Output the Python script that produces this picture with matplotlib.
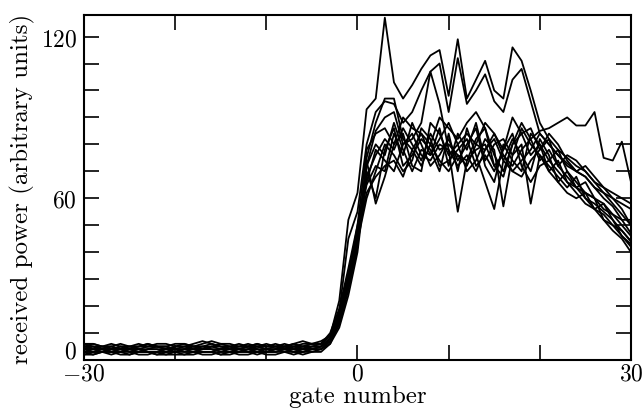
import numpy as np
import matplotlib.pyplot as plt
from matplotlib.ticker import FixedLocator, FixedFormatter, NullFormatter
from matplotlib.transforms import ScaledTranslation

plt.rcParams['font.family'] = 'cmr10'
plt.rcParams['mathtext.fontset'] = 'cm'
plt.rcParams['axes.unicode_minus'] = False

gate = np.arange(-30, 31)

# received power per pulse, gates -30..30
p01 = [5,5,4,5,4,4,5,6,5,4,5,5,4,5,6,5,5,4,5,5,6,5,4,5,5,6,6,
       9,22,52,62,
       93,97,127,103,97,102,108,113,115,98,119,97,104,111,100,97,116,111,100,88,82,78,75,72,70,66,62,58,54,50]
p02 = [3,4,4,3,4,3,3,4,4,3,3,4,4,3,3,4,3,3,4,4,3,4,4,3,4,4,5,
       8,18,45,55,
       80,92,96,95,88,92,100,107,110,92,112,95,100,106,96,92,104,108,96,84,80,76,73,70,68,64,60,57,52,47]
p03 = [6,6,5,5,6,5,5,5,6,6,5,5,6,7,6,5,5,6,5,6,5,5,6,5,6,6,7,
       9,16,30,45,
       72,85,90,92,80,82,88,107,95,78,55,74,82,86,76,70,80,84,76,80,74,70,66,64,60,58,55,52,48,44]
p04 = [4,3,3,4,3,4,4,3,2,3,4,4,3,4,4,3,3,4,5,4,3,4,4,5,5,4,5,
       7,14,28,42,
       75,88,97,97,82,78,84,80,90,86,82,88,92,86,72,68,80,88,82,85,86,88,90,87,87,92,75,74,81,66]
p05 = [2,3,3,2,3,3,2,2,3,3,3,2,2,3,3,2,3,3,3,2,3,3,4,3,3,4,4,
       6,12,24,40,
       68,76,82,78,86,80,74,84,78,80,76,72,80,78,84,76,72,78,82,74,78,72,68,64,66,60,56,54,50,46]
p06 = [5,4,5,5,4,5,6,5,5,5,4,5,5,6,7,6,5,5,5,6,5,5,5,6,5,6,6,
       9,18,32,48,
       65,72,70,84,76,88,80,72,76,82,74,80,86,72,66,80,74,70,84,80,70,74,66,62,58,56,54,50,46,42]
p07 = [4,5,4,4,5,4,4,4,5,5,4,4,5,5,4,4,5,4,4,5,4,4,5,5,4,5,5,
       8,15,30,46,
       70,60,78,86,72,76,82,78,70,84,70,86,76,66,56,74,82,76,70,82,76,66,70,64,62,60,52,50,48,44]
p08 = [3,2,3,3,3,2,3,3,2,2,3,3,3,2,2,3,3,2,2,3,3,3,3,2,3,3,4,
       7,13,26,42,
       74,58,68,80,84,72,70,88,84,76,80,70,74,82,78,57,76,80,58,76,72,68,64,68,60,56,58,52,46,43]
p09 = [6,5,5,6,5,5,5,6,5,5,6,6,5,5,5,6,6,5,5,5,5,6,5,6,7,6,6,
       10,19,34,50,
       66,78,74,70,80,84,76,74,80,78,72,76,70,78,82,74,70,74,78,84,80,76,72,70,68,64,62,60,58,56]
p10 = [4,4,3,4,4,4,3,4,4,4,3,4,4,4,5,4,4,4,3,4,4,4,5,4,4,5,5,
       8,14,28,44,
       60,70,80,76,70,74,86,82,72,74,78,82,72,76,70,78,84,72,66,72,74,78,70,66,62,60,58,54,52,52]
p11 = [3,3,4,3,3,4,3,3,3,4,4,3,3,3,3,4,4,3,4,3,3,3,4,4,3,4,4,
       7,15,30,47,
       72,80,76,88,78,70,78,76,86,72,84,78,88,74,80,82,76,86,80,76,70,66,62,60,62,56,52,48,45,40]
p12 = [5,6,5,4,5,5,4,5,5,4,5,6,5,4,5,5,4,5,6,5,4,5,5,4,5,5,6,
       9,17,32,46,
       62,68,72,74,68,78,72,80,74,70,76,74,78,80,72,76,70,68,74,78,82,72,76,74,70,66,64,62,60,58]
p13 = [2,2,3,3,2,2,3,3,3,2,2,2,3,3,3,2,2,3,3,3,2,2,3,3,2,3,3,
       6,14,30,50,
       78,84,86,80,90,86,84,76,82,88,80,84,80,88,84,78,90,84,86,78,84,80,74,70,72,68,64,60,56,50]

pulses = [p01, p02, p03, p04, p05, p06, p07, p08, p09, p10, p11, p12, p13]

fig = plt.figure(figsize=(6.44, 4.10), dpi=100)
ax = fig.add_axes([0.1304, 0.1195, 0.8494, 0.8415])

for p in pulses:
    ax.plot(gate, p, color='black', lw=1.3)

ax.set_xlim(-30, 30)
ax.set_ylim(0, 128)

ax.xaxis.set_major_locator(FixedLocator([-30, 0, 30]))
ax.xaxis.set_major_formatter(FixedFormatter(['$-30$', '$0$', '$30$']))
ax.xaxis.set_minor_locator(FixedLocator([-20, -10, 10, 20]))
ax.yaxis.set_major_locator(FixedLocator([0, 60, 120]))
ax.yaxis.set_major_formatter(FixedFormatter(['$0$', '$60$', '$120$']))
ax.yaxis.set_minor_locator(FixedLocator([10, 20, 30, 40, 50, 70, 80, 90, 100, 110]))
ax.xaxis.set_minor_formatter(NullFormatter())
ax.yaxis.set_minor_formatter(NullFormatter())

ax.tick_params(which='both', direction='in', top=True, right=True,
               length=11, width=1.2, labelsize=17)
ax.tick_params(axis='x', pad=2)
ax.tick_params(axis='y', pad=5)
for s in ax.spines.values():
    s.set_linewidth(1.5)

# lift the y "0" a little so it clears the "-30" below it
lab0 = ax.yaxis.get_major_ticks()[0].label1
lab0.set_transform(lab0.get_transform() + ScaledTranslation(0, 8 / 72, fig.dpi_scale_trans))

ax.set_xlabel('gate number', fontsize=18, labelpad=0)
ax.set_ylabel('received power (arbitrary units)', fontsize=18, labelpad=4)

fig.savefig('out.png', dpi=100)
